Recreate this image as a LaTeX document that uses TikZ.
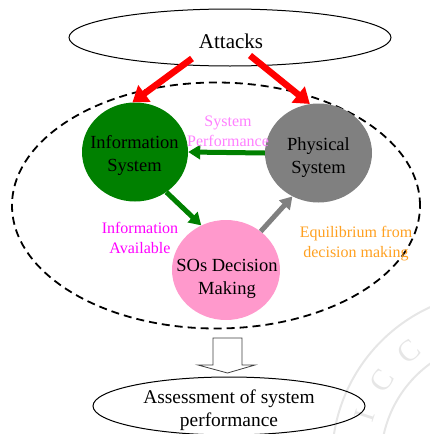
\documentclass[tikz,border=0pt]{standalone}
\usepackage{fontspec}
\setmainfont{Liberation Serif}
\usetikzlibrary{arrows.meta,shapes.geometric,calc}

\definecolor{infogreen}{RGB}{0,128,0}
\definecolor{physgray}{RGB}{128,128,128}
\definecolor{sospink}{RGB}{255,153,204}
\definecolor{perfpink}{RGB}{255,128,255}
\definecolor{availmag}{RGB}{255,0,255}
\definecolor{equiorange}{RGB}{255,160,32}
\definecolor{sealgray}{RGB}{230,230,230}

\tikzset{
  outline/.style={ellipse, draw, line width=1pt, inner sep=0pt},
  actor/.style={ellipse, inner sep=0pt},
  actortext/.style={align=center, inner sep=0pt,
    font=\fontsize{18.5}{23}\selectfont},
  tag/.style={align=center, inner sep=0pt, font=\fontsize{16}{20}\selectfont},
  attackarrow/.style={draw=red, line width=6.5pt,
    -{Triangle[width=20pt,length=15pt,fill=red]}},
  flow/.style={line width=5pt, -{Triangle[width=14pt,length=12pt]}},
  sealletter/.style={text=sealgray, inner sep=0pt,
    font=\fontsize{30}{30}\selectfont},
}

\begin{document}
\begin{tikzpicture}[x=1pt,y=-1pt]
\useasboundingbox (0,0) rectangle (430,434);

% faint circular seal in the lower right corner
\begin{scope}
  \clip (0,0) rectangle (430,434);
  \draw[sealgray, line width=2pt] (500,460) circle (168);
  \draw[sealgray, line width=2pt] (500,460) circle (119);
  \node[sealletter, rotate=72] (sealI) at (364.9,416.1) {I};
  \node[sealletter, rotate=56] (sealC) at (382.3,380.6) {C};
  \node[sealletter, rotate=40] (sealO) at (408.7,351.2) {C};
\end{scope}

% top ellipse
\node[outline, minimum width=322pt, minimum height=57pt] (attacks) at (230,37.5) {};
\node[font=\fontsize{21}{24}\selectfont] (attackstxt) at (231,41) {Attacks};

% dashed region holding the three actors
\node[ellipse, draw, dash pattern=on 8pt off 5pt, line width=1.8pt,
  minimum width=408pt, minimum height=246pt, inner sep=0pt] (region) at (216,205.5) {};

% actors
\node[actor, fill=infogreen, minimum width=106pt, minimum height=99pt] (info) at (135,152) {};
\node[actor, fill=physgray, minimum width=107pt, minimum height=99pt] (phys) at (318.5,153) {};
\node[actor, fill=sospink, minimum width=108pt, minimum height=100pt] (sos) at (226,270) {};
\node[actortext] (infotxt) at (134.5,155) {Information\\System};
\node[actortext] (phystxt) at (318.5,158) {Physical\\System};
\node[actortext] (sostxt) at (227,279) {SOs Decision\\Making};

% attacks hitting both systems
\draw[attackarrow] ($(attacks.center)+(-38,21)$) -- (info.93);
\draw[attackarrow] ($(attacks.center)+(20,18)$) -- (phys.100);

% flows between actors
\draw[flow, infogreen] (phys.west) -- (info.east);
\draw[flow, infogreen] (info.-52) -- (sos.119);
\draw[flow, physgray] (sos.48) -- (phys.-121);

% flow labels
\node[tag, text=perfpink] (perf) at (228,131) {System\\Performance};
\node[tag, text=availmag] (avail) at (140,237.5) {Information\\Available};
\node[tag, text=equiorange] (equi) at (356,243.5) {Equilibrium from\\decision making};

% hollow arrow towards the assessment
\draw[line width=0.8pt, draw=black!75, fill=white]
  (213,338) -- (242,338) -- (242,365) -- (255,365) -- (227.5,373)
  -- (198,365) -- (213,365) -- cycle;

% bottom ellipse
\node[outline, minimum width=272pt, minimum height=58pt] (assess) at (229,406) {};
\node[align=center, font=\fontsize{19.4}{23}\selectfont] (assesstxt) at (229,410) {Assessment of system\\performance};
\end{tikzpicture}
\end{document}
